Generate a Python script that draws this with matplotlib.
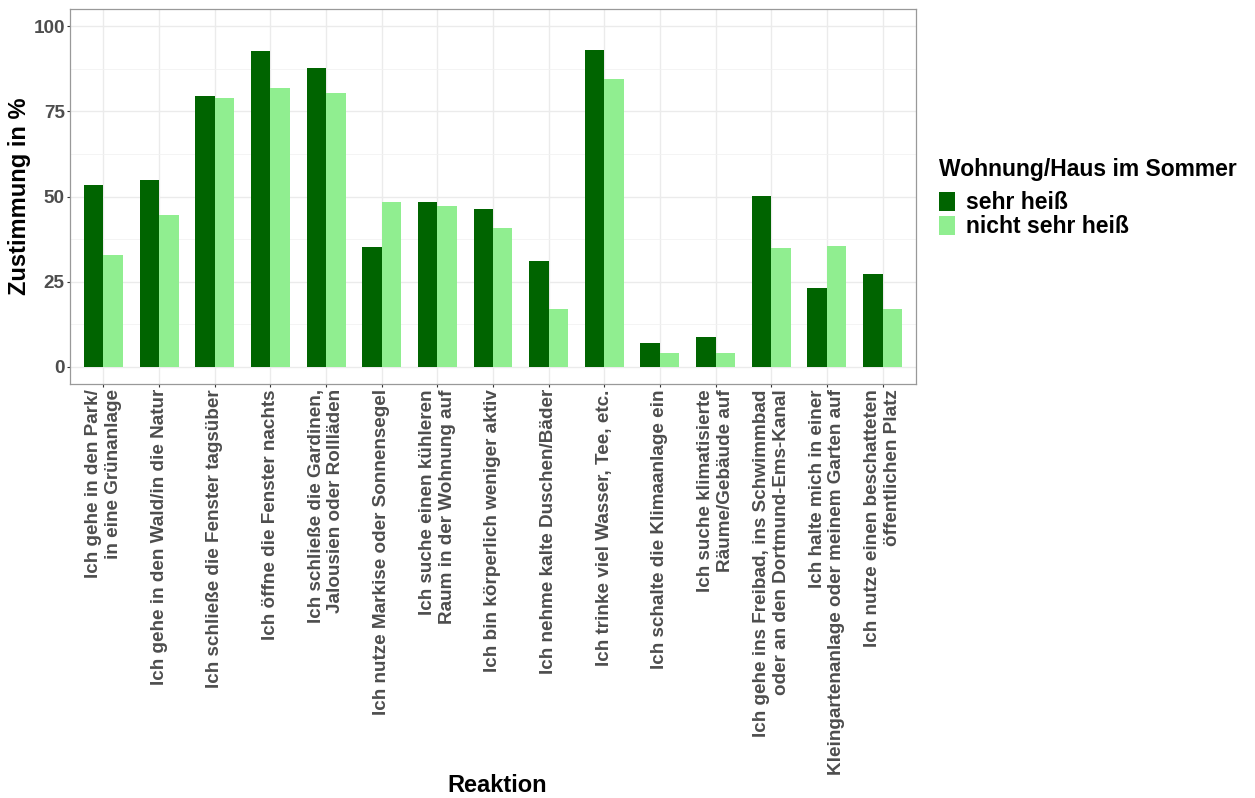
import matplotlib

matplotlib.use("Agg")
import matplotlib.pyplot as plt
import numpy as np

plt.rcParams["font.family"] = ["Liberation Sans", "DejaVu Sans"]
plt.rcParams["font.weight"] = "bold"

reaktionen = [
    "Ich gehe in den Park/\nin eine Grünanlage",
    "Ich gehe in den Wald/in die Natur",
    "Ich schließe die Fenster tagsüber",
    "Ich öffne die Fenster nachts",
    "Ich schließe die Gardinen,\nJalousien oder Rollläden",
    "Ich nutze Markise oder Sonnensegel",
    "Ich suche einen kühleren\nRaum in der Wohnung auf",
    "Ich bin körperlich weniger aktiv",
    "Ich nehme kalte Duschen/Bäder",
    "Ich trinke viel Wasser, Tee, etc.",
    "Ich schalte die Klimaanlage ein",
    "Ich suche klimatisierte\nRäume/Gebäude auf",
    "Ich gehe ins Freibad, ins Schwimmbad\noder an den Dortmund-Ems-Kanal",
    "Ich halte mich in einer\nKleingartenanlage oder meinem Garten auf",
    "Ich nutze einen beschatteten\nöffentlichen Platz",
]
sehr_heiss = [53.3, 54.9, 79.6, 92.7, 87.7, 35.1, 48.5, 46.4, 31.0, 93.1, 7.1, 8.8, 50.1, 23.1, 27.4]
nicht_sehr_heiss = [32.9, 44.5, 79.0, 81.9, 80.3, 48.3, 47.1, 40.7, 17.1, 84.4, 4.2, 4.1, 35.0, 35.6, 17.1]
gruppen = ["sehr heiß", "nicht sehr heiß"]
farben = ["#006400", "#90EE90"]

W, H = 1255, 798
fig = plt.figure(figsize=(W / 100, H / 100), dpi=100)
ax = fig.add_axes([70 / W, 1 - 384 / H, (916 - 70) / W, (384 - 9) / H])

x = np.arange(1, len(reaktionen) + 1)
bw = 0.35
ax.bar(x - bw / 2, sehr_heiss, width=bw, color=farben[0], label=gruppen[0], zorder=3)
ax.bar(x + bw / 2, nicht_sehr_heiss, width=bw, color=farben[1], label=gruppen[1], zorder=3)

ax.set_xlim(0.4, len(reaktionen) + 0.6)
ax.set_ylim(-5, 105)
ax.set_yticks([0, 25, 50, 75, 100])
ax.set_yticks([12.5, 37.5, 62.5, 87.5], minor=True)
ax.set_xticks(x)
ax.set_xticklabels(reaktionen, rotation=90, ha="center", va="top", multialignment="right")
ax.grid(which="major", color="#EBEBEB", linewidth=1.0, zorder=0)
ax.grid(which="minor", axis="y", color="#F2F2F2", linewidth=0.6, zorder=0)
ax.tick_params(axis="both", which="major", labelsize=13.6, labelcolor="#4D4D4D",
               color="#333333", length=2.2, width=0.8, pad=1.5)
ax.tick_params(which="minor", length=0)
for s in ax.spines.values():
    s.set_color("#999999")
    s.set_linewidth(0.9)

fig.text(497 / W, 1 - 785 / H, "Reaktion", ha="center", va="center", fontsize=17, fontweight="bold")
fig.text(20 / W, 1 - 196 / H, "Zustimmung in %", ha="center", va="center", rotation=90,
         fontsize=17, fontweight="bold")

# legend title placed separately to match the gap above the keys
fig.text(939 / W, 1 - 176 / H, "Wohnung/Haus im Sommer", ha="left", va="baseline",
         fontsize=16.5, fontweight="bold")
leg = ax.legend(loc="upper left", bbox_to_anchor=(939 / W, 1 - 191 / H),
                bbox_transform=fig.transFigure, frameon=False, fontsize=16.5,
                handlelength=0.7, handleheight=0.9, handletextpad=0.5, labelspacing=0.05,
                borderpad=0, borderaxespad=0)

fig.savefig("out.png", dpi=100)
